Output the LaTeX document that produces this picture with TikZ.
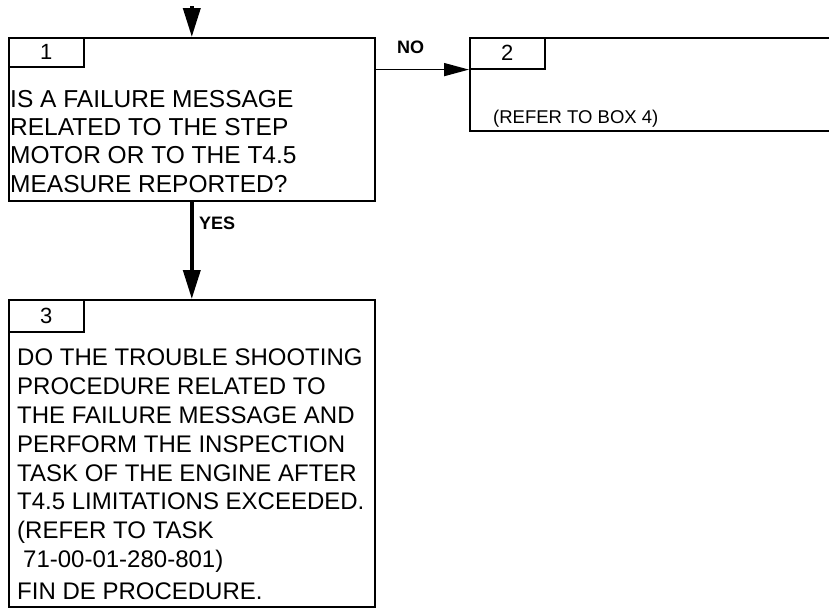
\documentclass[tikz,border=0pt]{standalone}
\usepackage{fontspec}
\setmainfont{Liberation Sans}
\usetikzlibrary{arrows.meta}
\tikzset{
  box/.style={draw, line width=1.6pt, rectangle, anchor=north west, inner sep=0pt},
  tab/.style={draw, line width=1.6pt, rectangle, anchor=north west, inner sep=0pt, minimum width=75pt, font=\fontsize{22}{24}\selectfont},
  bodytext/.style={anchor=north west, inner sep=0pt, align=left},
  smalltext/.style={anchor=west, inner sep=0pt, font=\fontsize{18.5}{20}\selectfont},
  lbl/.style={anchor=west, inner sep=0pt, font=\bfseries\fontsize{18}{20}\selectfont},
  bigarrow/.style={line width=3.8pt, -{Triangle[length=29pt,width=17pt]}},
  smallarrow/.style={line width=1.6pt, -{Triangle[length=25pt,width=13pt]}}
}
\begin{document}
\begin{tikzpicture}[x=1pt,y=-1pt]
\useasboundingbox (0,0) rectangle (829,608);
% boxes
\node[box, minimum width=366pt, minimum height=163pt] (b1) at (8,37) {};
\node[box, minimum width=366pt, minimum height=93pt] (b2) at (469,37) {};
\node[box, minimum width=366pt, minimum height=307pt] (b3) at (8,299) {};
% tabs
\node[tab, minimum height=29pt] (t1) at (b1.north west) {1};
\node[tab, minimum height=31pt] (t2) at (b2.north west) {2};
\node[tab, minimum height=32pt] (t3) at (b3.north west) {3};
% texts
\node[bodytext, font=\fontsize{24.5}{28.3}\selectfont] (x1) at (10,90) {IS A FAILURE MESSAGE\\RELATED TO THE STEP\\MOTOR OR TO THE T4.5\\MEASURE REPORTED?};
\node[smalltext] (x2) at (493,119) {(REFER TO BOX 4)};
\node[bodytext, font=\fontsize{24}{28.8}\selectfont] (x3) at (17,349) {DO THE TROUBLE SHOOTING\\PROCEDURE RELATED TO\\THE FAILURE MESSAGE AND\\PERFORM THE INSPECTION\\TASK OF THE ENGINE AFTER\\T4.5 LIMITATIONS EXCEEDED.\\(REFER TO TASK\\\hspace*{6pt}71-00-01-280-801)\\[3pt]FIN DE PROCEDURE.};
% labels
\node[lbl] (no) at (397,47) {NO};
\node[lbl] (yes) at (199,223) {YES};
% connectors
\coordinate (in) at (b1.north |- 0,6);
\draw[bigarrow] (in) -- (b1.north);
\draw[smallarrow] (b1.east |- t2.south west) -- (t2.south west);
\draw[bigarrow] (b1.south) -- (b3.north);
\end{tikzpicture}
\end{document}
